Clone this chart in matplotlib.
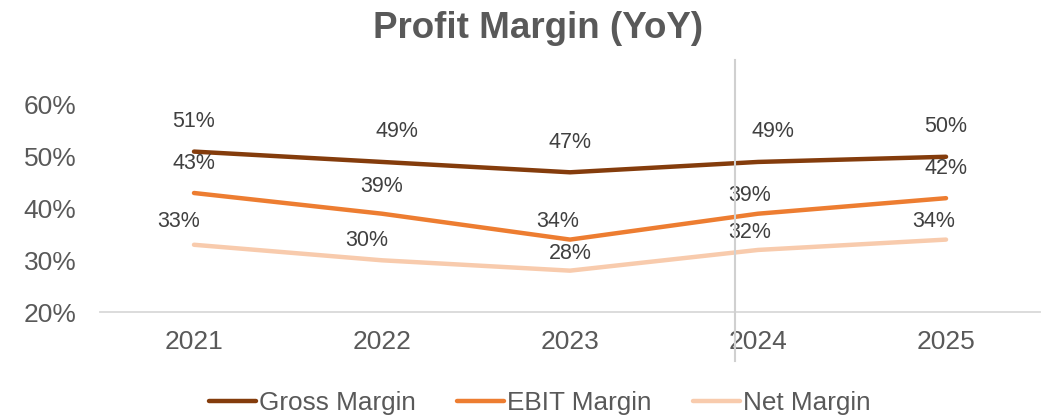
import matplotlib.pyplot as plt
import matplotlib.transforms as mtransforms
from matplotlib.lines import Line2D

years = ["2021", "2022", "2023", "2024", "2025"]
gross_margin = [51, 49, 47, 49, 50]
ebit_margin = [43, 39, 34, 39, 42]
net_margin = [33, 30, 28, 32, 34]
y_ticks = [20, 30, 40, 50, 60]

plt.rcParams['font.family'] = ['Liberation Sans', 'DejaVu Sans']
TXT = '#595959'
LBL = '#404040'

fig = plt.figure(figsize=(10.48, 4.2), dpi=100)
ax = fig.add_axes([0.0954, 0.257, 0.897, 0.493])

# label offsets in pixels (dx, dy) per point
series = [
    ("Gross Margin", gross_margin, '#843C0C',
     [(0, 30), (15, 30), (0, 30), (15, 30), (0, 30)]),
    ("EBIT Margin", ebit_margin, '#ED7D31',
     [(0, 30), (0, 27), (-12, 18), (-8, 18), (0, 30)]),
    ("Net Margin", net_margin, '#F8CBAD',
     [(-15, 23), (-15, 20), (0, 17), (-8, 17), (-12, 18)]),
]
x = list(range(len(years)))
for name, vals, color, offs in series:
    ax.plot(x, [v / 100 for v in vals], color=color, lw=3.2,
            solid_capstyle='round', label=name)
    for xi, v, (dx, dy) in zip(x, vals, offs):
        ax.annotate(f"{v}%", (xi, v / 100), xytext=(dx * 0.72, dy * 0.72),
                    textcoords='offset points', ha='center', va='center',
                    fontsize=15.5, color=LBL)

ax.set_xlim(-0.5, len(years) - 0.5)
ax.set_ylim(y_ticks[0] / 100, y_ticks[-1] / 100)
ax.set_xticks(x)
ax.set_xticklabels(years)
ax.set_yticks([t / 100 for t in y_ticks])
ax.set_yticklabels([f"{t}%" for t in y_ticks])
ax.tick_params(axis='both', length=0, labelsize=19, colors=TXT)
ax.tick_params(axis='y', pad=17)
ax.tick_params(axis='x', pad=13)
for s in ['top', 'right', 'left']:
    ax.spines[s].set_visible(False)
ax.spines['bottom'].set_color('#D9D9D9')
ax.spines['bottom'].set_linewidth(1.3)

# stray vertical line across the chart
trans = mtransforms.blended_transform_factory(ax.transData, fig.transFigure)
fig.add_artist(Line2D([2.88, 2.88], [0.14, 0.857], transform=trans,
                      color='#D0D0D0', lw=1.5))

fig.suptitle("Profit Margin (YoY)", fontsize=26.5, fontweight='bold',
             color=TXT, x=0.513, y=0.975)
fig.legend(loc='lower center', ncol=3, frameon=False, fontsize=18.8,
           bbox_to_anchor=(0.515, -0.045), handlelength=1.8,
           handletextpad=0.1, columnspacing=1.6, labelcolor=TXT)

fig.savefig("out.png", dpi=100)
